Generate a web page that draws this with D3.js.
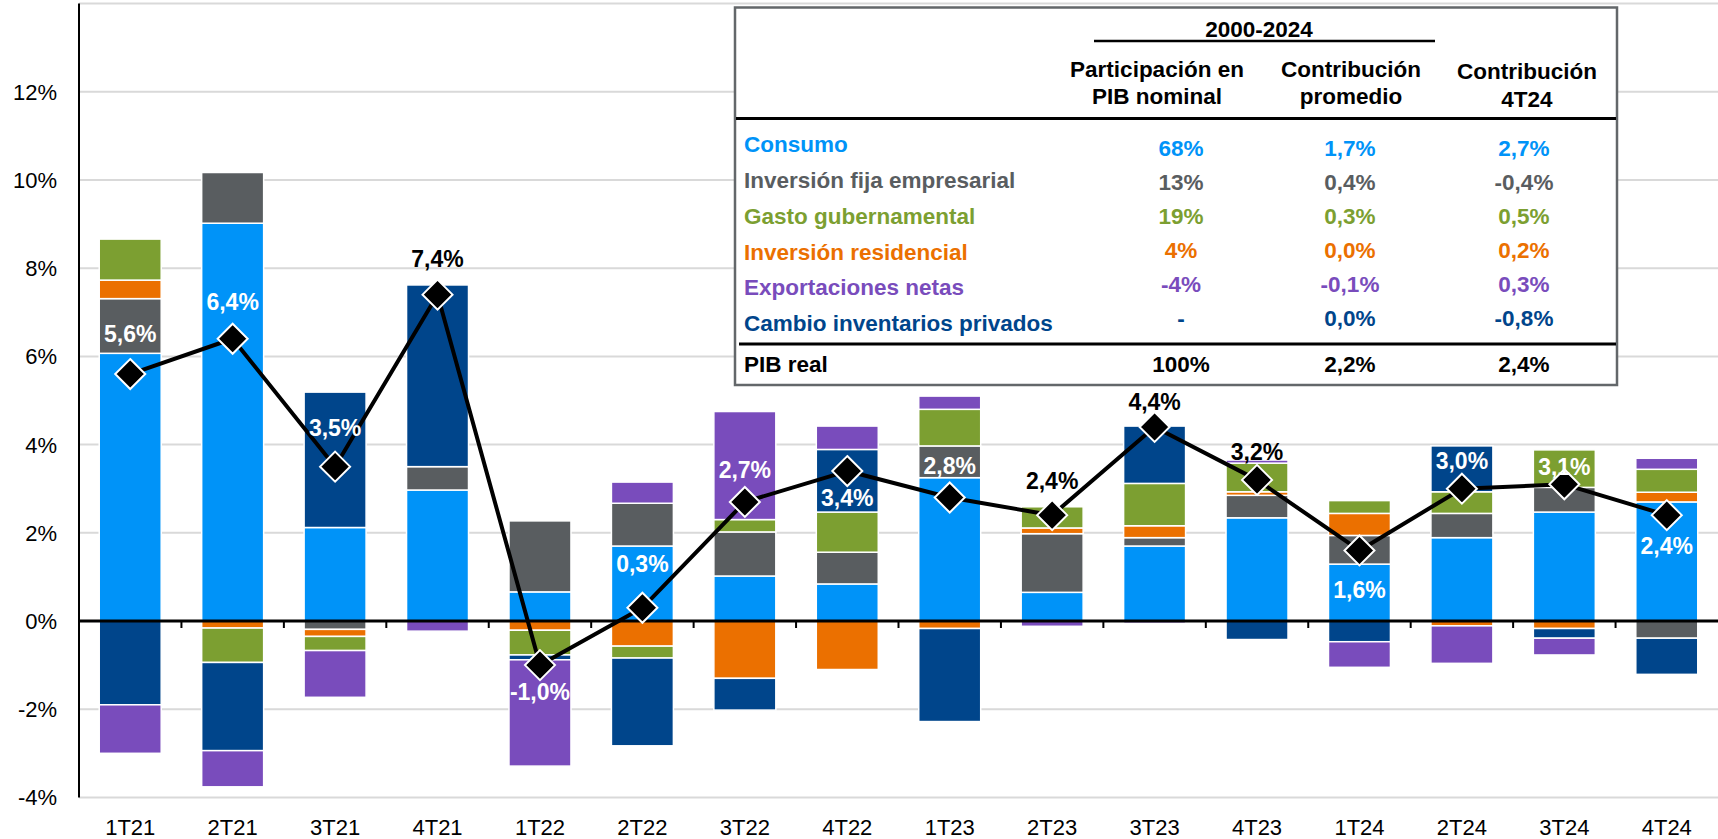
<!DOCTYPE html>
<html>
<head>
<meta charset="utf-8">
<script src="https://cdn.jsdelivr.net/npm/d3@7"></script>
<style>
  body { margin: 0; background: #fff; }
  svg { display: block; font-family: "Liberation Sans", Arial, sans-serif; }
</style>
</head>
<body>
<svg id="chart" width="1718" height="839"></svg>
<script>
// quarters on the x axis
const quarters = ['1T21', '2T21', '3T21', '4T21', '1T22', '2T22', '3T22', '4T22',
                  '1T23', '2T23', '3T23', '4T23', '1T24', '2T24', '3T24', '4T24'];

// contributions to real GDP growth (pp)
const consumo       = [6.07, 9.02, 2.12, 2.97, 0.66, 1.70, 1.02, 0.84, 3.25, 0.65, 1.70, 2.34, 1.29, 1.89, 2.47, 2.70];
const inversionFija = [1.24, 1.15, -0.19, 0.53, 1.61, 0.97, 1.00, 0.72, 0.72, 1.33, 0.19, 0.51, 0.65, 0.55, 0.56, -0.39];
const residencial   = [0.42, -0.16, -0.16, 0.00, -0.21, -0.57, -1.30, -1.10, -0.17, 0.13, 0.27, 0.08, 0.50, -0.11, -0.17, 0.22];
const gasto         = [0.93, -0.78, -0.32, 0.00, -0.56, -0.27, 0.28, 0.91, 0.83, 0.48, 0.96, 0.65, 0.29, 0.49, 0.85, 0.52];
const inventarios   = [-1.90, -2.00, 3.07, 4.12, -0.11, -1.99, -0.72, 1.42, -2.11, 0.00, 1.30, -0.42, -0.47, 1.04, -0.22, -0.82];
const exportaciones = [-1.10, -0.82, -1.06, -0.23, -2.41, 0.48, 2.45, 0.53, 0.30, -0.12, -0.05, 0.07, -0.58, -0.85, -0.38, 0.25];

// real GDP growth (line)
const pibReal = [5.6, 6.4, 3.5, 7.4, -1.0, 0.3, 2.7, 3.4, 2.8, 2.4, 4.4, 3.2, 1.6, 3.0, 3.1, 2.4];

const yTicks = [-4, -2, 0, 2, 4, 6, 8, 10, 12, 14];

// table
const tablaNombres = ['Consumo', 'Inversión fija empresarial', 'Gasto gubernamental',
                      'Inversión residencial', 'Exportaciones netas', 'Cambio inventarios privados'];
const participacion = ['68%', '13%', '19%', '4%', '-4%', '-'];
const contribPromedio = ['1,7%', '0,4%', '0,3%', '0,0%', '-0,1%', '0,0%'];
const contrib4T24 = ['2,7%', '-0,4%', '0,5%', '0,2%', '0,3%', '-0,8%'];
const totales = ['100%', '2,2%', '2,4%'];

// label placement for the GDP values (offset from marker, dark text or white)
const labelDy = [-40, -37, -39, -36, 27, -44, -32, 27, -32, -34, -25, -28, 39, -28, -18, 31];
const labelDark = [0, 0, 0, 1, 0, 0, 0, 0, 0, 1, 1, 1, 0, 0, 0, 0];

const colors = {
  consumo: '#0093F8',
  inversionFija: '#595D60',
  residencial: '#EB7000',
  gasto: '#7C9F31',
  inventarios: '#00458B',
  exportaciones: '#794CBC'
};
const tablaColors = [colors.consumo, colors.inversionFija, colors.gasto,
                     colors.residencial, colors.exportaciones, colors.inventarios];

const svg = d3.select('#chart');
const left = 79, right = 1718;

const x = d3.scaleBand()
  .domain(quarters)
  .range([left, right])
  .paddingInner(0.395)
  .paddingOuter(0.1975);

const y = d3.scaleLinear()
  .domain([-4, 14])
  .range([797.4, 3.6]);

const loc = d3.formatLocale({ decimal: ',', thousands: '.', grouping: [3], currency: ['', ''], minus: '-' });
const fmt = v => loc.format('.1f')(v) + '%';

// gridlines
svg.append('g')
  .selectAll('line')
  .data(yTicks.filter(d => d !== 0))
  .join('line')
  .attr('x1', left).attr('x2', right)
  .attr('y1', d => y(d)).attr('y2', d => y(d))
  .attr('stroke', '#D9D9D9')
  .attr('stroke-width', 2);

// y labels
svg.append('g')
  .selectAll('text')
  .data(yTicks.filter(d => d < 14))
  .join('text')
  .attr('x', 57)
  .attr('y', d => y(d))
  .attr('dy', '0.36em')
  .attr('text-anchor', 'end')
  .attr('font-size', 22)
  .attr('fill', '#000')
  .text(d => d + '%');

// stacked bars
const keys = ['consumo', 'inversionFija', 'residencial', 'gasto', 'inventarios', 'exportaciones'];
const rows = quarters.map((q, i) => ({
  q,
  consumo: consumo[i],
  inversionFija: inversionFija[i],
  residencial: residencial[i],
  gasto: gasto[i],
  inventarios: inventarios[i],
  exportaciones: exportaciones[i]
}));
const series = d3.stack().keys(keys).offset(d3.stackOffsetDiverging)(rows);

svg.append('g')
  .selectAll('g')
  .data(series)
  .join('g')
  .attr('fill', s => colors[s.key])
  .selectAll('rect')
  .data(s => s.filter(d => d[1] - d[0] !== 0))
  .join('rect')
  .attr('x', d => x(d.data.q))
  .attr('width', x.bandwidth())
  .attr('y', d => y(Math.max(d[0], d[1])))
  .attr('height', d => Math.abs(y(d[0]) - y(d[1])))
  .attr('stroke', '#fff')
  .attr('stroke-width', 1.5);

// zero line + ticks
svg.append('line')
  .attr('x1', left).attr('x2', right)
  .attr('y1', y(0)).attr('y2', y(0))
  .attr('stroke', '#000').attr('stroke-width', 3);

svg.append('g')
  .selectAll('line')
  .data(quarters.slice(1))
  .join('line')
  .attr('x1', d => x(d) - x.step() * x.paddingInner() / 2)
  .attr('x2', d => x(d) - x.step() * x.paddingInner() / 2)
  .attr('y1', y(0)).attr('y2', y(0) + 7)
  .attr('stroke', '#000').attr('stroke-width', 2);

// y axis line
svg.append('line')
  .attr('x1', left).attr('x2', left)
  .attr('y1', y(14)).attr('y2', y(-4))
  .attr('stroke', '#000').attr('stroke-width', 2);

// x labels
svg.append('g')
  .selectAll('text')
  .data(quarters)
  .join('text')
  .attr('x', d => x(d) + x.bandwidth() / 2)
  .attr('y', 827)
  .attr('dy', '0.36em')
  .attr('text-anchor', 'middle')
  .attr('font-size', 22)
  .text(d => d);

// GDP line and markers
const cx = i => x(quarters[i]) + x.bandwidth() / 2;
const line = d3.line().x((d, i) => cx(i)).y(d => y(d));
svg.append('path')
  .datum(pibReal)
  .attr('d', line)
  .attr('fill', 'none')
  .attr('stroke', '#000')
  .attr('stroke-width', 4)
  .attr('stroke-linejoin', 'round');

const r = 15;
svg.append('g')
  .selectAll('path')
  .data(pibReal)
  .join('path')
  .attr('d', (d, i) => {
    const px = cx(i), py = y(d);
    return `M${px},${py - r}L${px + r},${py}L${px},${py + r}L${px - r},${py}Z`;
  })
  .attr('fill', '#000')
  .attr('stroke', '#fff')
  .attr('stroke-width', 2);

svg.append('g')
  .selectAll('text')
  .data(pibReal)
  .join('text')
  .attr('x', (d, i) => cx(i))
  .attr('y', (d, i) => y(d) + labelDy[i])
  .attr('dy', '0.36em')
  .attr('text-anchor', 'middle')
  .attr('font-size', 23)
  .attr('font-weight', 'bold')
  .attr('fill', (d, i) => labelDark[i] ? '#000' : '#fff')
  .text(d => fmt(d));

// table box
const tb = svg.append('g');
tb.append('rect')
  .attr('x', 735).attr('y', 7.5)
  .attr('width', 882).attr('height', 377.5)
  .attr('fill', '#fff')
  .attr('stroke', '#63676A')
  .attr('stroke-width', 2.5);

const tfont = 22.5;
tb.append('text')
  .attr('x', 1259).attr('y', 29).attr('dy', '0.36em')
  .attr('text-anchor', 'middle').attr('font-size', tfont).attr('font-weight', 'bold')
  .text('2000-2024');
tb.append('line')
  .attr('x1', 1094).attr('x2', 1435).attr('y1', 41).attr('y2', 41)
  .attr('stroke', '#000').attr('stroke-width', 2.5);

const headers = [
  { cx: 1157, lines: ['Participación en', 'PIB nominal'] },
  { cx: 1351, lines: ['Contribución', 'promedio'] },
  { cx: 1527, lines: ['Contribución', '4T24'] }
];
headers.forEach((h, j) => {
  h.lines.forEach((t, k) => {
    tb.append('text')
      .attr('x', h.cx).attr('y', (j === 2 ? 70.5 : 69) + k * (j === 2 ? 28 : 26.5))
      .attr('dy', '0.36em')
      .attr('text-anchor', 'middle').attr('font-size', tfont).attr('font-weight', 'bold')
      .text(t);
  });
});

tb.append('line')
  .attr('x1', 736).attr('x2', 1616).attr('y1', 118.5).attr('y2', 118.5)
  .attr('stroke', '#000').attr('stroke-width', 3);
tb.append('line')
  .attr('x1', 739).attr('x2', 1616).attr('y1', 344).attr('y2', 344)
  .attr('stroke', '#000').attr('stroke-width', 3);

const valCols = [participacion, contribPromedio, contrib4T24];
const valX = [1181, 1350, 1524];
tablaNombres.forEach((n, i) => {
  tb.append('text')
    .attr('x', 744).attr('y', 144 + i * 35.8).attr('dy', '0.36em')
    .attr('font-size', tfont).attr('font-weight', 'bold')
    .attr('fill', tablaColors[i])
    .text(n);
  valCols.forEach((col, j) => {
    tb.append('text')
      .attr('x', valX[j]).attr('y', 147.5 + i * 34).attr('dy', '0.36em')
      .attr('text-anchor', 'middle')
      .attr('font-size', tfont).attr('font-weight', 'bold')
      .attr('fill', tablaColors[i])
      .text(col[i]);
  });
});

tb.append('text')
  .attr('x', 744).attr('y', 363.5).attr('dy', '0.36em')
  .attr('font-size', tfont).attr('font-weight', 'bold')
  .text('PIB real');
totales.forEach((t, j) => {
  tb.append('text')
    .attr('x', valX[j]).attr('y', 364).attr('dy', '0.36em')
    .attr('text-anchor', 'middle')
    .attr('font-size', tfont).attr('font-weight', 'bold')
    .text(t);
});
</script>
</body>
</html>
